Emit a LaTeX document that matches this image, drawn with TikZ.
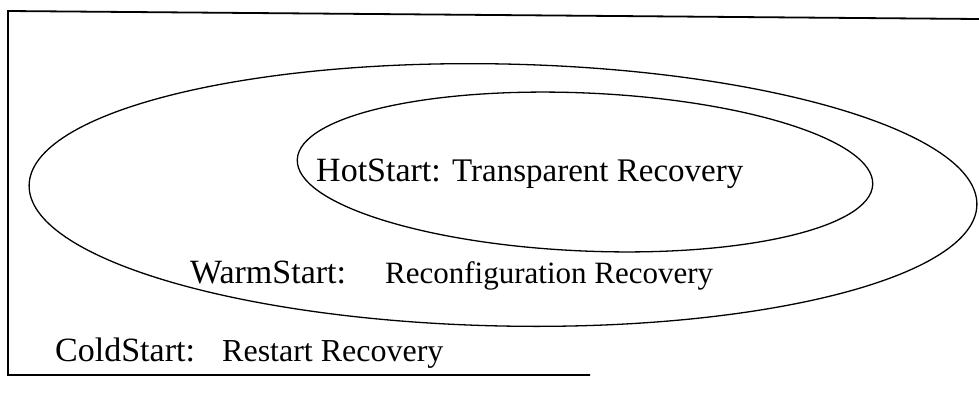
\documentclass[tikz,border=0pt]{standalone}
\usepackage{fontspec}
\setmainfont{Liberation Serif}
\begin{document}
\begin{tikzpicture}[x=1pt,y=1pt,
  lab/.style={anchor=base west,inner sep=0pt,font=\fontsize{34}{38}\selectfont},
  desc/.style={anchor=base west,inner sep=0pt,font=\fontsize{31}{35}\selectfont},
  ring/.style={draw=black,line width=1.3pt}]
\useasboundingbox (0,0) rectangle (979,-394);
% frame (open on the right)
\draw[line width=1.8pt] (979,-19) -- (8,-11) -- (8,-375) -- (590,-375);
% outer and inner ellipses
\draw[ring,rotate around={-1.2:(503,-195)}] (503,-195) ellipse [x radius=474pt,y radius=131pt];
\draw[ring,rotate around={-2.5:(585,-172)}] (585,-172) ellipse [x radius=288pt,y radius=79pt];
% texts
\node[lab]  (hot)   at (316,-181) {HotStart:};
\node[desc,font=\fontsize{33}{37}\selectfont] (hotd) at (452,-181) {Transparent Recovery};
\node[lab]  (warm)  at (190,-283) {WarmStart:};
\node[desc] (warmd) at (385,-283) {Reconfiguration Recovery};
\node[lab]  (cold)  at (55,-361)  {ColdStart:};
\node[desc,font=\fontsize{32}{36}\selectfont] (coldd) at (222,-361) {Restart Recovery};
\end{tikzpicture}
\end{document}
